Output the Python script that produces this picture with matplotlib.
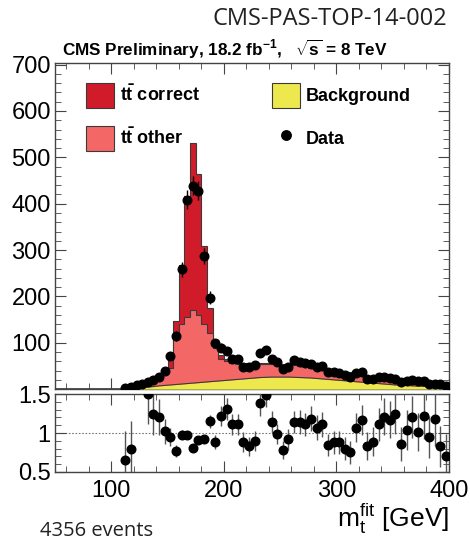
import matplotlib
matplotlib.use("Agg")
import matplotlib.pyplot as plt
import numpy as np
from matplotlib.patches import Patch
from matplotlib.lines import Line2D
from matplotlib.ticker import MultipleLocator

plt.rcParams["font.family"] = ["Liberation Sans", "DejaVu Sans"]
plt.rcParams["mathtext.fontset"] = "custom"
plt.rcParams["mathtext.rm"] = "Liberation Sans"
plt.rcParams["mathtext.it"] = "Liberation Sans:italic"
plt.rcParams["mathtext.bf"] = "Liberation Sans:bold"

# 5 GeV bins, 110-400 GeV (centres 112.5 ... 397.5)
bin_lo = 110
bin_w = 5

background = [0.5, 1.5, 2.5, 3.5, 4.5, 5.5, 7, 8, 9, 10,
              11, 12, 13, 14, 15, 16, 17, 18, 19, 20,
              21, 22, 23, 24, 25, 25.5, 26, 26, 26, 26,
              25.5, 25, 24.5, 24, 23, 22, 21, 20, 19, 18,
              17, 16, 15, 14, 13, 12, 11, 10, 9, 8.5,
              8, 7, 6.5, 6, 5, 4.5, 4, 3.5]
tt_other = [3.5, 4, 2.5, 3.5, 5, 9.5, 14, 25, 36, 100,
            130, 143, 158, 145, 126, 104, 71, 48, 41, 36,
            34, 30, 31, 30, 30, 29.5, 28, 29, 27, 24,
            26.5, 24, 23.5, 21, 20, 20, 19, 19, 18, 18,
            17, 15, 14, 12, 11, 10, 9, 9, 8, 6.5,
            6, 7, 6.5, 6, 6, 5, 5.5, 4.5]
tt_correct = [0.5, 0.5, 0.5, 0.5, 0.5, 1, 2, 6, 31, 38,
              127, 261, 360, 304, 167, 54, 17, 8, 5, 4,
              4, 3, 3, 3, 2, 2, 2, 2, 2, 2,
              2, 2, 2, 2, 2, 2, 2, 2, 2, 2,
              2, 2, 2, 2, 2, 2, 2, 2, 2, 2,
              2, 2, 2, 2, 2, 1.5, 1.5, 1]
data = [3, 5, 9, 12, 15, 20, 27, 40, 71, 115,
        259, 409, 439, 428, 287, 197, 99, 89, 82, 66,
        66, 47, 47, 52, 78, 84, 64, 58, 43, 47,
        63, 58, 56, 54, 47, 50, 36, 36, 34, 31,
        27, 34, 36, 22, 22, 27, 27, 24, 22, 15,
        17, 20, 17, 17, 12, 12, 10, 6]
ratio = [0.65, 0.80, np.nan, np.nan, 1.50, 1.25, 1.20, 1.02, 0.95, 0.77,
         0.98, 0.98, 0.81, 0.91, 0.92, 1.15, 0.89, 1.22, 1.31, 1.11,
         1.11, 0.88, 0.83, 0.90, 1.38, 1.49, 1.14, 0.99, 0.78, 0.92,
         1.14, 1.14, 1.11, 1.18, 1.07, 1.11, 0.85, 0.88, 0.88, 0.80,
         0.75, 1.07, 1.17, 0.83, 0.89, 1.11, 1.21, 1.17, 1.25, 0.86,
         1.04, 1.21, 1.01, 1.22, 0.95, 1.18, 0.83, 0.70]

C_CORRECT = "#d01c2a"
C_OTHER = "#f46767"
C_BKG = "#ece84e"
C_LINE = "#3a3a3a"

n = len(data)
edges = bin_lo + bin_w * np.arange(n + 1)
centres = edges[:-1] + bin_w / 2
bkg = np.array(background)
stack_other = bkg + np.array(tt_other)
stack_all = stack_other + np.array(tt_correct)
data = np.array(data, dtype=float)
ratio = np.array(ratio)

fig = plt.figure(figsize=(4.7, 5.45), dpi=100)
ax = fig.add_axes([0.117, 0.286, 0.838, 0.598])
axr = fig.add_axes([0.117, 0.134, 0.838, 0.143])

# stacked histograms, drawn back to front
ax.stairs(stack_all, edges, fill=True, color=C_CORRECT, zorder=1)
ax.stairs(stack_all, edges, color=C_LINE, lw=0.8, zorder=1.1)
ax.stairs(stack_other, edges, fill=True, color=C_OTHER, zorder=2)
ax.stairs(stack_other, edges, color=C_LINE, lw=0.8, zorder=2.1)
ax.fill_between(centres, 0, bkg, color=C_BKG, lw=0, zorder=3)
ax.plot(centres, bkg, color=C_LINE, lw=0.8, zorder=3.1)
ax.plot([50, bin_lo], [0, 0], color=C_LINE, lw=1.2, zorder=3.1)

ax.errorbar(centres, data, yerr=np.sqrt(data), fmt="o", color="black",
            ms=6.2, elinewidth=1.0, capsize=0, zorder=5)

ax.set_xlim(50, 400)
ax.set_ylim(0, 703)
ax.set_yticks(np.arange(100, 800, 100))
ax.yaxis.set_minor_locator(MultipleLocator(20))
ax.xaxis.set_major_locator(MultipleLocator(100))
ax.xaxis.set_minor_locator(MultipleLocator(20))
ax.tick_params(labelbottom=False)

handles = [Patch(facecolor=C_CORRECT, edgecolor=C_LINE, lw=0.8),
           Patch(facecolor=C_OTHER, edgecolor=C_LINE, lw=0.8),
           Patch(facecolor=C_BKG, edgecolor=C_LINE, lw=0.8),
           Line2D([], [], ls="none", marker="o", color="black", ms=6.8)]
labels = [r"$\mathbf{t\bar{t}}$ correct", r"$\mathbf{t\bar{t}}$ other",
          "Background", "Data"]
leg = ax.legend(handles, labels, ncol=2, loc="upper left",
                bbox_to_anchor=(0.08, 0.94), frameon=False,
                prop={"weight": "bold", "size": 13},
                handlelength=1.55, handleheight=1.75, handletextpad=0.3,
                labelspacing=1.0, columnspacing=4.0,
                borderpad=0, borderaxespad=0)

# ratio panel
axr.axhline(1.0, color="#777777", lw=0.8, ls=(0, (1.5, 1.5)), zorder=1)
axr.axhline(0.5, color="#777777", lw=0.8, ls=(0, (1.5, 1.5)), zorder=1)
axr.errorbar(centres, ratio, yerr=ratio / np.sqrt(data), fmt="o",
             color="black", ecolor="#555555", ms=6.2, elinewidth=1.0,
             capsize=0, zorder=5, clip_on=True)
axr.set_xlim(50, 400)
axr.set_ylim(0.5, 1.5)
axr.set_yticks([0.5, 1, 1.5])
axr.set_yticklabels(["0.5", "1", "1.5"])
axr.xaxis.set_major_locator(MultipleLocator(100))
axr.xaxis.set_minor_locator(MultipleLocator(20))
axr.yaxis.set_minor_locator(MultipleLocator(0.1))
axr.set_xlabel(r"$\mathrm{m_{t}^{fit}}$ [GeV]", fontsize=19, loc="right",
               labelpad=0)

for a in (ax, axr):
    a.tick_params(which="both", direction="in", top=True, right=True,
                  color="#444444", labelsize=17, pad=3)
    a.tick_params(which="major", length=8)
    a.tick_params(which="minor", length=4)
    for s in a.spines.values():
        s.set_color("#444444")
        s.set_linewidth(1.0)
axr.tick_params(axis="x", pad=6)

fig.text(0.132, 0.910,
         r"CMS Preliminary, 18.2 fb$^{\mathbf{-1}}$,   $\sqrt{\mathbf{s}}$ = 8 TeV",
         fontsize=12.3, fontweight="bold", va="center", ha="left")
fig.text(0.951, 0.965, "CMS-PAS-TOP-14-002", fontsize=17,
         family="Open Sans", color="#222222", ha="right", va="center")
fig.text(0.085, 0.026, "4356 events", fontsize=14.5,
         family="Open Sans", color="#222222", ha="left", va="center")

fig.savefig("out.png", dpi=100)
